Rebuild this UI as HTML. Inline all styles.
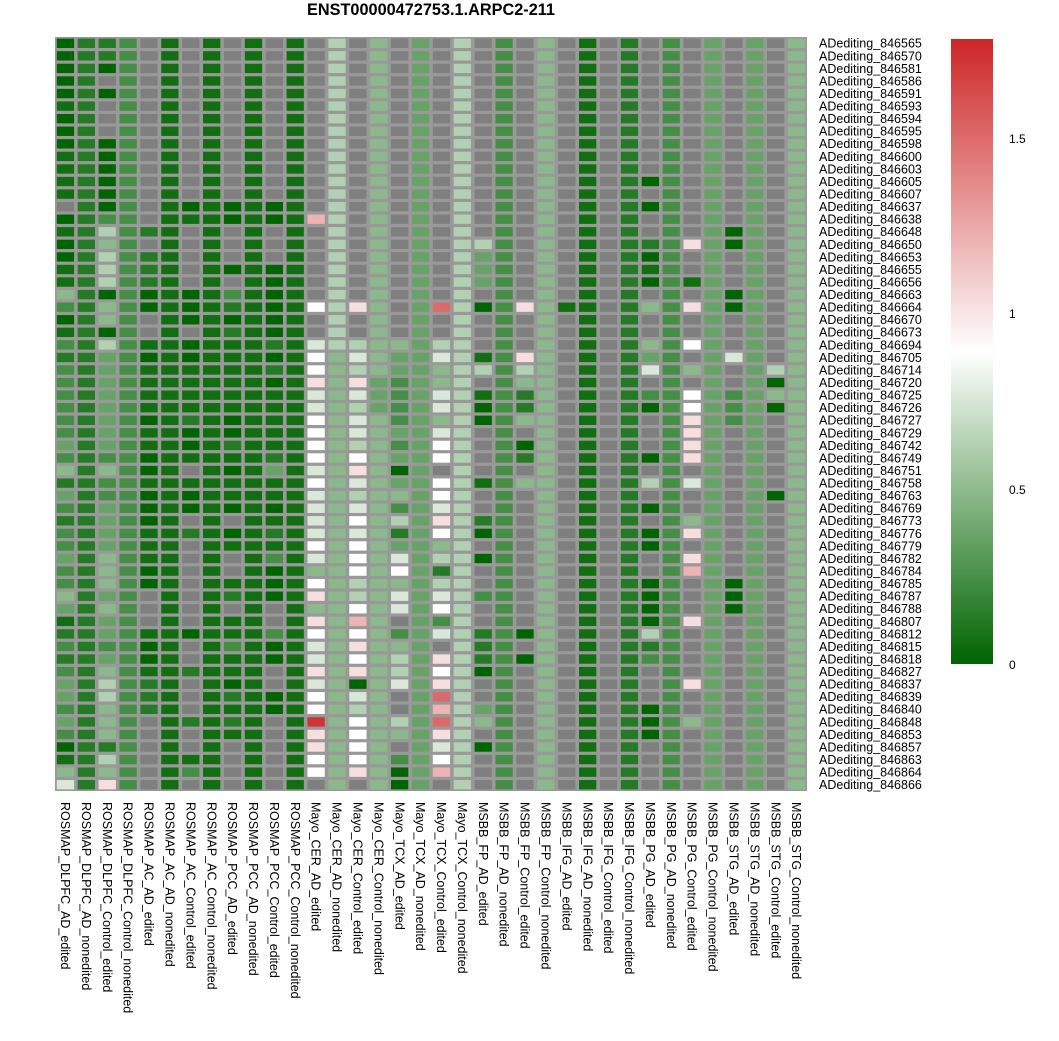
<!DOCTYPE html>
<html><head><meta charset="utf-8">
<style>
html,body{margin:0;padding:0;background:#fff;}
svg{display:block;font-family:"Liberation Sans",sans-serif;}
</style></head>
<body>
<svg id="chart" width="1059" height="1041" viewBox="0 0 1059 1041" xmlns="http://www.w3.org/2000/svg">
<defs>
<linearGradient id="lg" x1="0" y1="1" x2="0" y2="0">
<stop offset="0" stop-color="#006400"/><stop offset="0.5" stop-color="#ffffff"/><stop offset="1" stop-color="#cd2626"/>
</linearGradient>
</defs>
<text x="431" y="15" text-anchor="middle" font-size="16.3" font-weight="bold">ENST00000472753.1.ARPC2-211</text>
<g id="cells"></g>
<g id="rowlabels"></g>
<g id="collabels"></g>
<g>
<rect x="951" y="39" width="42" height="625" fill="url(#lg)"/>
<text x="1009" y="143" font-size="12">1.5</text>
<text x="1009" y="318" font-size="12">1</text>
<text x="1009" y="494" font-size="12">0.5</text>
<text x="1009" y="669" font-size="12">0</text>
</g>
</svg>
<script>
const rowLabels = ["846565","846570","846581","846586","846591","846593","846594","846595","846598","846600","846603","846605","846607","846637","846638","846648","846650","846653","846655","846656","846663","846664","846670","846673","846694","846705","846714","846720","846725","846726","846727","846729","846742","846749","846751","846758","846763","846769","846773","846776","846779","846782","846784","846785","846787","846788","846807","846812","846815","846818","846827","846837","846839","846840","846848","846853","846857","846863","846864","846866"].map(s => "ADediting_" + s);
const colLabels = ["ROSMAP_DLPFC_AD_edited","ROSMAP_DLPFC_AD_nonedited","ROSMAP_DLPFC_Control_edited","ROSMAP_DLPFC_Control_nonedited","ROSMAP_AC_AD_edited","ROSMAP_AC_AD_nonedited","ROSMAP_AC_Control_edited","ROSMAP_AC_Control_nonedited","ROSMAP_PCC_AD_edited","ROSMAP_PCC_AD_nonedited","ROSMAP_PCC_Control_edited","ROSMAP_PCC_Control_nonedited","Mayo_CER_AD_edited","Mayo_CER_AD_nonedited","Mayo_CER_Control_edited","Mayo_CER_Control_nonedited","Mayo_TCX_AD_edited","Mayo_TCX_AD_nonedited","Mayo_TCX_Control_edited","Mayo_TCX_Control_nonedited","MSBB_FP_AD_edited","MSBB_FP_AD_nonedited","MSBB_FP_Control_edited","MSBB_FP_Control_nonedited","MSBB_IFG_AD_edited","MSBB_IFG_AD_nonedited","MSBB_IFG_Control_edited","MSBB_IFG_Control_nonedited","MSBB_PG_AD_edited","MSBB_PG_AD_nonedited","MSBB_PG_Control_edited","MSBB_PG_Control_nonedited","MSBB_STG_AD_edited","MSBB_STG_AD_nonedited","MSBB_STG_Control_edited","MSBB_STG_Control_nonedited"];
// value code per level ('.' = NA)
const codeValues = {"0":0,"1":0.06,"2":0.13,"3":0.24,"4":0.36,"5":0.49,"6":0.62,"7":0.76,"8":0.89,"a":1.02,"b":1.2,"c":1.5,"d":1.72};
// one string per column, 60 rows each
const colData = [
"0000010001111.0100115301323333"+"334352432334335412323443430157",
"222222222222222222222222222222"+"222222222222222222222222222222",
"220.0...0000003656660550644444"+"444353344445554544345665552 65a".replace(" ",""),
"333333333333333333333333333333"+"333333333333333333333333333333",
"...............2.22200..101111"+"01100100011100...1001222......",
"111111111111111111111111111111"+"111111111111111111111111111111",
".............01.....000.001111"+"2001.100.2.......0..2...2..13.",
"111111111111111111111111111111"+"111111111111111111111111111111",
".............00...0.3202111111"+"00210110.01..12.1131102121....",
"111111111111111111111111111111"+"111111111111111111111111111111",
".............00...000000202011"+"111241101213000..300..00......",
"111111111111111111111111111111"+"111111111111111111111111111111",
"..............b......8..788a77"+"88887877778758a5a877a788daa88.",
"666666666666666666666666655555"+"555555555555555555555555555555",
".....................a..676a76"+"7768a76787888668b8a8a0768888a.",
"555555555555555555555555555444"+"555555555555555555555555555555",
"........................544333"+"3434045362478577.35667..65.300",
"444444444444444444444444444444"+"444444444444444444444444444444",
".....................c..675577"+"5788.887a856267837.a8acbca78b.",
"666666666666666666666666666666"+"666666666666666666666666666666",
"................6444.0...16.10"+"0....1..20.0..3..2220..45.0...",
"333333333333333333333333333333"+"333333333333333333333333333333",
".....................a...a6522"+"5.02.5...........0.0..........",
"555555555555555555555555555555"+"555555555555555555555555555555",
".....................1........"+"..............................",
"111111111111111111111111111111"+"111111111111111111111111111111",
".............................."+"..............................",
"222222222222222222222222222222"+"222222222222222222222222222222",
"...........0.0..2010.5..547.30"+"...0.6.0.00..0000623...000....",
"333333333333333333333333333333"+"333333333333333333333333333333",
"................a..1.a..8.5.88"+"aaaa.7..5a.ab...a....a..5.....",
"444444444444444444444444444444"+"444444444444444444444444444444",
"...............00...00...7..33"+"3............000..............",
"444444444444444444444444444444"+"444444444444444444444444444444",
"..........................6050"+"......0.......................",
"555555555555555555555555555555"+"555555555555555555555555555555"
];
const vmin = 0, vmax = 1.78;
const X0 = 55, Y0 = 37, W = 752, H = 754;
const nC = colLabels.length, nR = rowLabels.length;
const cw = W / nC, ch = H / nR;
const xPos = i => X0 + i * cw;
const yPos = j => Y0 + j * ch;
function colorFor(v){
  const mid = (vmin + vmax) / 2;
  let a, b, t;
  if (v <= mid){ a=[0,100,0]; b=[255,255,255]; t=(v-vmin)/(mid-vmin); }
  else { a=[255,255,255]; b=[205,38,38]; t=(v-mid)/(vmax-mid); }
  t=Math.max(0,Math.min(1,t));
  const c=a.map((x,k)=>Math.round(x+(b[k]-x)*t));
  return "rgb("+c.join(",")+")";
}
const NS="http://www.w3.org/2000/svg";
const gCells=document.getElementById("cells");
const bg=document.createElementNS(NS,"rect");


bg.setAttribute("x",X0);bg.setAttribute("y",Y0);bg.setAttribute("width",W);bg.setAttribute("height",H);bg.setAttribute("fill","#999999");
gCells.appendChild(bg);
for(let i=0;i<nC;i++){
  const s=colData[i];
  for(let j=0;j<nR;j++){
    const ch_=s[j];
    const r=document.createElementNS(NS,"rect");
    
    
    r.setAttribute("x",(xPos(i)+1.8).toFixed(2));
    r.setAttribute("y",(yPos(j)+1.6).toFixed(2));
    r.setAttribute("width",(cw-3.6).toFixed(2));
    r.setAttribute("height",(ch-3.2).toFixed(2));
    r.setAttribute("fill", ch_==="." ? "#7f7f7f" : colorFor(codeValues[ch_]));
    gCells.appendChild(r);
  }
}
const gR=document.getElementById("rowlabels");
rowLabels.forEach((t,j)=>{
  const e=document.createElementNS(NS,"text");
  
  
  e.setAttribute("x",819);
  e.setAttribute("y",(yPos(j)+ch/2+4.4).toFixed(2));
  e.setAttribute("font-size","12.5");
  e.textContent=t;
  gR.appendChild(e);
});
const gC=document.getElementById("collabels");
colLabels.forEach((t,i)=>{
  const e=document.createElementNS(NS,"text");
  
  
  const cx=xPos(i)+cw/2, cy=802;
  e.setAttribute("x",cx);e.setAttribute("y",cy);
  e.setAttribute("font-size","12.5");
  e.setAttribute("dy","4.4");
  e.setAttribute("transform","rotate(90 "+cx+" "+cy+")");
  e.textContent=t;
  gC.appendChild(e);
});
</script>
</body></html>
